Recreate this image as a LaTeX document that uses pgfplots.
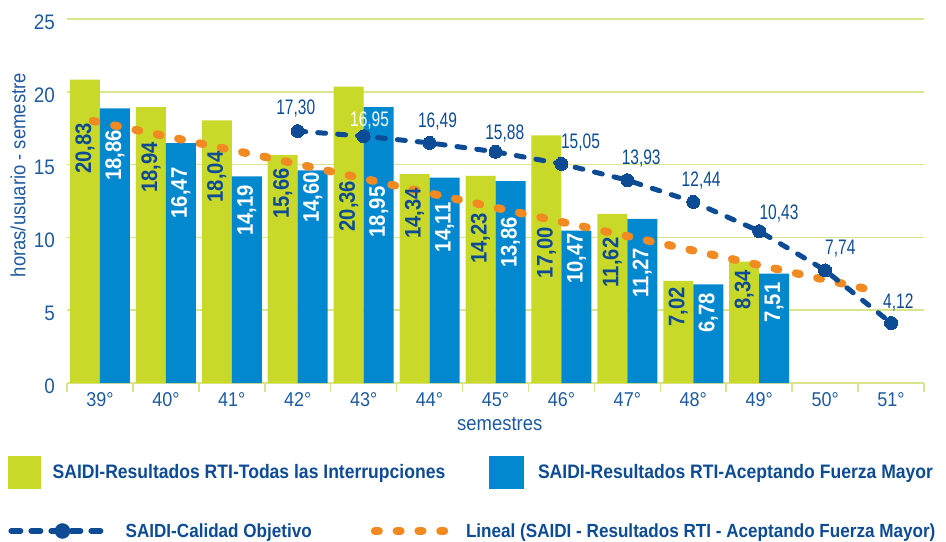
\documentclass[border=0pt]{standalone}
\usepackage{pgfplots}
\usepackage{pgfplotstable}
\pgfplotsset{compat=1.18}
\usepackage{fontspec}
\setmainfont{Liberation Sans}[FakeStretch=0.9]
\newfontfamily\narrowfont{Liberation Sans}[FakeStretch=0.74]
\definecolor{cgreen}{RGB}{200,217,42}
\definecolor{cblue}{RGB}{2,136,206}
\definecolor{cnavy}{RGB}{13,76,148}
\definecolor{ctext}{RGB}{30,90,160}
\definecolor{corange}{RGB}{242,138,34}
\definecolor{cgrid}{RGB}{218,228,140}

\pgfplotstableread{
x g b
39 20.83 18.86
40 18.94 16.47
41 18.04 14.19
42 15.66 14.60
43 20.36 18.95
44 14.34 14.11
45 14.23 13.86
46 17.00 10.47
47 11.62 11.27
48 7.02 6.78
49 8.34 7.51
}\bars

\pgfplotstableread{
x y lab
38.7725 17.86 20,83
39.7725 16.55 18,94
40.7725 15.9 18,04
41.7725 14.77 15,66
42.7725 13.9 20,36
43.7725 13.4 14,34
44.7725 11.7 14,23
45.7725 10.7 17,00
46.7725 10.0 11,62
47.7725 6.6 7,02
48.7725 7.76 8,34
}\glabels

\pgfplotstableread{
x y lab
39.2275 17.4 18,86
40.2275 14.8 16,47
41.2275 13.6 14,19
42.2275 14.5 14,60
43.2275 13.5 18,95
44.2275 12.4 14,11
45.2275 11.4 13,86
46.2275 10.3 10,47
47.2275 9.3 11,27
48.2275 6.2 6,78
49.2275 6.9 7,51
}\blabels

\pgfplotstableread{
x y
42 17.30
43 16.95
44 16.49
45 15.88
46 15.05
47 13.93
48 12.44
49 10.43
50 7.74
51 4.12
}\objetivo

\pgfplotstableread{
x y lab
41.97 18.88 17,30
44.12 17.93 16,49
45.14 17.12 15,88
46.29 16.49 15,05
47.21 15.44 13,93
48.12 13.88 12,44
49.30 11.67 10,43
50.23 9.25 7,74
51.11 5.56 4,12
}\objlabels

\begin{document}
\begin{tikzpicture}
\begin{axis}[
  at={(0,0)}, anchor=south west,
  scale only axis, width=857bp, height=364bp,
  xmin=38.5, xmax=51.5, ymin=0, ymax=25,
  axis x line*=bottom, axis y line*=left,
  x axis line style={draw=cgrid, line width=1.5bp, -},
  y axis line style={draw=none},
  ytick={0,5,10,15,20,25},
  xtick={39,40,41,42,43,44,45,46,47,48,49,50,51},
  xticklabels={39°,40°,41°,42°,43°,44°,45°,46°,47°,48°,49°,50°,51°},
  minor xtick={38.5,39.5,...,51.5},
  minor ytick={},
  major tick length=0pt,
  minor tick length=9bp,
  xtick align=outside,
  minor x tick style={draw=cgrid, line width=1.5bp},
  major x tick style={draw=none},
  ytick style={draw=none},
  ymajorgrids,
  major grid style={draw=cgrid, line width=1.5bp},
  /pgf/number format/assume math mode=true,
  yticklabel style={anchor=east, inner sep=0pt, xshift=-12bp, yshift=-3bp, text=ctext, font=\fontsize{21bp}{23bp}\selectfont},
  xticklabel style={anchor=center, inner sep=0pt, yshift=-17bp, text=ctext, font=\fontsize{20bp}{22bp}\selectfont},
  ylabel={horas/usuario - semestre},
  ylabel style={at={(axis description cs:-0.0572,0.571)}, anchor=center, text=ctext, font=\fontsize{20.5bp}{22bp}\selectfont},
  xlabel={semestres},
  xlabel style={at={(axis description cs:0.505,-0.1126)}, anchor=center, text=ctext, font=\fontsize{20.5bp}{22bp}\selectfont},
]
\addplot[ybar, bar width=0.455, bar shift=-0.2275, fill=cgreen, draw=none] table[x=x,y=g]{\bars};
\addplot[ybar, bar width=0.455, bar shift=0.2275, fill=cblue, draw=none] table[x=x,y=b]{\bars};

\addplot[draw=none, mark=none, nodes near coords={\pgfplotspointmeta}, point meta=explicit symbolic,
  every node near coord/.append style={rotate=90, anchor=east, inner sep=0pt, text=cnavy, font=\bfseries\fontsize{22.5bp}{24bp}\selectfont}]
  table[x=x,y=y,meta=lab]{\glabels};
\addplot[draw=none, mark=none, nodes near coords={\pgfplotspointmeta}, point meta=explicit symbolic,
  every node near coord/.append style={rotate=90, anchor=east, inner sep=0pt, text=white, font=\bfseries\fontsize{22.5bp}{24bp}\selectfont}]
  table[x=x,y=y,meta=lab]{\blabels};

\addplot[corange, line width=8bp, dash pattern=on 4bp off 17.8bp, line cap=round, mark=none]
  coordinates {(38.89,18.0) (41.53,15.5) (44.84,12.2) (47.80,9.3) (50.79,6.3)};

\addplot[cnavy, line width=5bp, dash pattern=on 8bp off 12bp, line cap=round, mark=*, mark size=6.5bp,
  mark options={solid, fill=cnavy, draw=cnavy, line width=0pt}] table[x=x,y=y]{\objetivo};

\addplot[draw=none, mark=none, nodes near coords={\pgfplotspointmeta}, point meta=explicit symbolic,
  every node near coord/.append style={anchor=center, inner sep=0pt, text=cnavy, font=\narrowfont\fontsize{21bp}{23bp}\selectfont}]
  table[x=x,y=y,meta=lab]{\objlabels};
\addplot[draw=none, mark=none, nodes near coords={\pgfplotspointmeta}, point meta=explicit symbolic,
  every node near coord/.append style={anchor=center, inner sep=0pt, text=white, font=\narrowfont\fontsize{21bp}{23bp}\selectfont}]
  coordinates {(43.09,18.05) [16,95]};
\end{axis}

% legend row 1
\begin{axis}[
  at={(0,0)}, anchor=south west,
  scale only axis, width=857bp, height=364bp,
  hide axis, xmin=0, xmax=1, ymin=0, ymax=1,
  legend columns=2, legend cell align=left,
  legend style={at={(-0.0688,-0.2445)}, anchor=west, draw=none, fill=none, inner sep=0pt,
    text=cnavy, font=\bfseries\fontsize{19.5bp}{21bp}\selectfont, nodes={inner sep=0pt}},
]
\addlegendimage{legend image code/.code={\fill[cgreen] (0bp,-16bp) rectangle (32bp,16bp); \path (44bp,0bp);}}
\addlegendentry{\makebox[436bp][l]{SAIDI-Resultados RTI-Todas las Interrupciones}}
\addlegendimage{legend image code/.code={\fill[cblue] (0bp,-16bp) rectangle (34bp,16bp); \path (49bp,0bp);}}
\addlegendentry{SAIDI-Resultados RTI-Aceptando Fuerza Mayor}
\end{axis}

% legend row 2
\begin{axis}[
  at={(0,0)}, anchor=south west,
  scale only axis, width=857bp, height=364bp,
  hide axis, xmin=0, xmax=1, ymin=0, ymax=1,
  legend columns=2, legend cell align=left,
  legend style={at={(-0.0688,-0.4066)}, anchor=west, draw=none, fill=none, inner sep=0pt,
    text=cnavy, font=\bfseries\fontsize{19bp}{21bp}\selectfont, nodes={inner sep=0pt}},
]
\addlegendimage{legend image code/.code={
  \draw[cnavy, line width=6bp, line cap=round, dash pattern=on 9bp off 11bp] (3bp,0bp) -- (102bp,0bp);
  \fill[cnavy] (54bp,0bp) circle (7.5bp);
  \path (0bp,8bp); \path (117bp,-8bp);}}
\addlegendentry{\makebox[245bp][l]{SAIDI-Calidad Objetivo}}
\addlegendimage{legend image code/.code={
  \draw[corange, line width=8bp, line cap=round, dash pattern=on 4bp off 17.8bp] (4bp,0bp) -- (80bp,0bp);
  \path (0bp,8bp); \path (95bp,-8bp);}}
\addlegendentry{Lineal (SAIDI - Resultados RTI - Aceptando Fuerza Mayor)}
\end{axis}

\pgfresetboundingbox
\path[use as bounding box] (-67bp,-159bp) rectangle (879bp,383bp);
\end{tikzpicture}
\end{document}
